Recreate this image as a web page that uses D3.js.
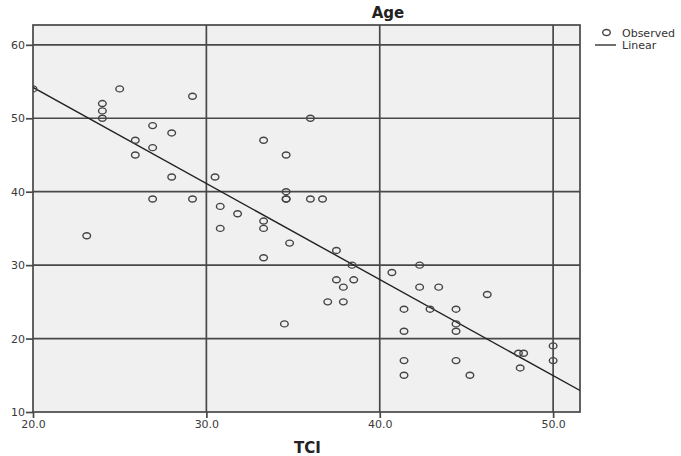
<!DOCTYPE html>
<html>
<head>
<meta charset="utf-8">
<script src="https://cdn.jsdelivr.net/npm/d3@7"></script>
<style>
  body { margin: 0; background: #fff; }
  text { font-family: "DejaVu Sans", Verdana, sans-serif; }
</style>
</head>
<body>
<div id="chart"></div>
<script>
// observed points (TCI, Age)
var tci = [20.0, 25.0, 24.0, 24.0, 24.0, 29.2, 26.9, 28.0, 25.9, 26.9, 25.9, 36.0, 33.3, 34.6,
           28.0, 30.5, 26.9, 29.2, 30.8, 31.8, 30.8, 23.1, 34.6, 34.6, 34.6, 36.0, 36.7, 33.3,
           33.3, 34.8, 33.3, 37.5, 38.4, 40.7, 42.3, 37.5, 38.5, 37.9, 42.3, 43.4, 37.0, 37.9,
           41.4, 42.9, 44.4, 46.2, 34.5, 44.4, 44.4, 41.4, 41.4, 44.4, 41.4, 45.2, 48.0, 48.3,
           48.1, 50.0, 50.0];
var age = [54, 54, 52, 51, 50, 53, 49, 48, 47, 46, 45, 50, 47, 45,
           42, 42, 39, 39, 38, 37, 35, 34, 40, 39, 39, 39, 39, 36,
           35, 33, 31, 32, 30, 29, 30, 28, 28, 27, 27, 27, 25, 25,
           24, 24, 24, 26, 22, 22, 21, 21, 17, 17, 15, 15, 18, 18,
           16, 19, 17];

// linear fit
var fitIntercept = 80.36;
var fitSlope = -1.308;

var xTicks = [20, 30, 40, 50];
var yTicks = [10, 20, 30, 40, 50, 60];

var margin = {top: 25, right: 101, bottom: 44, left: 33},
    width = 681 - margin.left - margin.right,
    height = 456 - margin.top - margin.bottom;

var svg = d3.select("#chart")
  .append("svg")
    .attr("width", 681)
    .attr("height", 456)
  .append("g")
    .attr("transform", "translate(" + margin.left + "," + margin.top + ")");

var x = d3.scaleLinear().domain([20, 51.55]).range([0, width]);
var y = d3.scaleLinear().domain([10, 62.7]).range([height, 0]);

var grid = "#484848";

// plot background
svg.append("rect")
  .attr("width", width)
  .attr("height", height)
  .attr("fill", "#f0f0f0");

// grid lines
svg.append("g")
  .selectAll("line")
  .data(yTicks.filter(function(d){ return d > 10; }))
  .enter().append("line")
    .attr("x1", 0).attr("x2", width)
    .attr("y1", function(d){ return y(d); })
    .attr("y2", function(d){ return y(d); })
    .attr("stroke", grid).attr("stroke-width", 1.7);

svg.append("g")
  .selectAll("line")
  .data(xTicks.filter(function(d){ return d > 20; }))
  .enter().append("line")
    .attr("y1", 0).attr("y2", height)
    .attr("x1", function(d){ return x(d); })
    .attr("x2", function(d){ return x(d); })
    .attr("stroke", grid).attr("stroke-width", 1.7);

// frame
svg.append("rect")
  .attr("width", width)
  .attr("height", height)
  .attr("fill", "none")
  .attr("stroke", grid)
  .attr("stroke-width", 1.7);

// axes
var xAxis = svg.append("g")
  .attr("transform", "translate(0," + height + ")")
  .call(d3.axisBottom(x).tickValues(xTicks).tickFormat(d3.format(".1f")).tickSize(6).tickPadding(2));
var yAxis = svg.append("g")
  .call(d3.axisLeft(y).tickValues(yTicks).tickSize(7).tickPadding(1));

[xAxis, yAxis].forEach(function(a){
  a.select(".domain").remove();
  a.selectAll("line").attr("stroke", grid).attr("stroke-width", 1.7);
  a.selectAll("text")
    .attr("fill", "#3a3a3a")
    .style("font-size", "11px")
    .style("font-family", "'DejaVu Sans', Verdana, sans-serif");
});

// clip for marks
svg.append("clipPath").attr("id", "clip")
  .append("rect").attr("width", width).attr("height", height);

var marks = svg.append("g").attr("clip-path", "url(#clip)");

// regression line
marks.append("line")
  .attr("x1", x(20)).attr("x2", x(51.55))
  .attr("y1", y(fitIntercept + fitSlope * 20))
  .attr("y2", y(fitIntercept + fitSlope * 51.55))
  .attr("stroke", "#222")
  .attr("stroke-width", 1.4);

// observed points
marks.selectAll("ellipse")
  .data(d3.range(tci.length))
  .enter().append("ellipse")
    .attr("cx", function(i){ return x(tci[i]); })
    .attr("cy", function(i){ return y(age[i]); })
    .attr("rx", 3.8)
    .attr("ry", 3)
    .attr("fill", "none")
    .attr("stroke", "#444")
    .attr("stroke-width", 1.4);

// titles
svg.append("text")
  .attr("x", 355)
  .attr("y", -7)
  .attr("text-anchor", "middle")
  .style("font-size", "15px")
  .style("font-weight", "bold")
  .attr("fill", "#222")
  .text("Age");

svg.append("text")
  .attr("x", width / 2 + 1)
  .attr("y", height + 41)
  .attr("text-anchor", "middle")
  .style("font-size", "15px")
  .style("font-weight", "bold")
  .attr("fill", "#222")
  .text("TCI");

// legend
var legend = svg.append("g")
  .attr("transform", "translate(" + (width + 14) + ",0)");

legend.append("ellipse")
  .attr("cx", 12.5).attr("cy", 7.5)
  .attr("rx", 3.8).attr("ry", 3)
  .attr("fill", "none").attr("stroke", "#444").attr("stroke-width", 1.4);
legend.append("line")
  .attr("x1", 1).attr("x2", 22)
  .attr("y1", 20).attr("y2", 20)
  .attr("stroke", "#222").attr("stroke-width", 1.3);
legend.append("text")
  .attr("x", 28).attr("y", 8)
  .attr("dy", "0.35em")
  .style("font-size", "11px")
  .attr("fill", "#333")
  .text("Observed");
legend.append("text")
  .attr("x", 28).attr("y", 20)
  .attr("dy", "0.35em")
  .style("font-size", "11px")
  .attr("fill", "#333")
  .text("Linear");
</script>
</body>
</html>
